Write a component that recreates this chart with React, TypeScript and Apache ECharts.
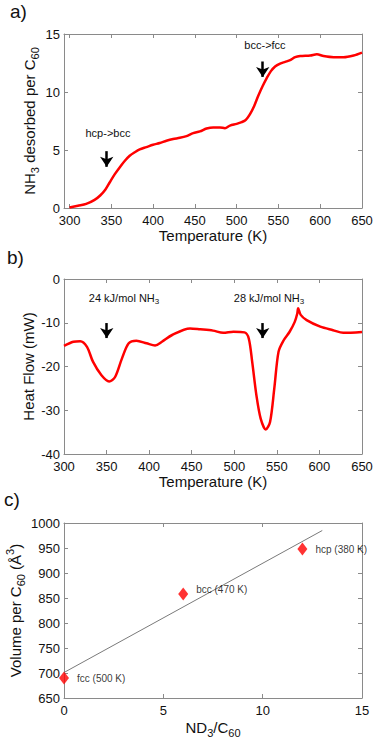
import React, { useEffect, useRef } from "react";
import * as echarts from "echarts";

// ---- Panel a: NH3 desorbed per C60 vs temperature ----
const tempA = [300, 310, 320, 330, 337, 343, 348, 354, 360, 366, 372, 378, 384, 392, 400, 408, 416, 424, 432, 440, 448, 456, 464, 472, 480, 486, 492, 500, 506, 511, 516, 521, 526, 531, 536, 541, 546, 552, 558, 564, 570, 576, 588, 596, 604, 616, 628, 640, 650];
const nh3A = [0.05, 0.2, 0.35, 0.7, 1.1, 1.6, 2.2, 2.9, 3.5, 4.05, 4.5, 4.8, 5.05, 5.25, 5.45, 5.6, 5.8, 5.95, 6.05, 6.2, 6.45, 6.6, 6.85, 6.95, 6.95, 6.88, 7.1, 7.25, 7.4, 7.6, 8.1, 8.8, 9.7, 10.5, 11.2, 11.8, 12.2, 12.45, 12.6, 12.75, 13.0, 13.1, 13.15, 13.25, 13.1, 13.0, 13.0, 13.15, 13.4];
const tempTicksA = [300, 350, 400, 450, 500, 550, 600, 650];

// ---- Panel b: heat flow vs temperature ----
const tempB = [300, 311, 319, 327, 334, 344, 353, 360, 368, 376, 385, 397, 407, 415, 427, 448, 460, 475, 487, 499, 512, 517, 521, 526, 531, 537, 542, 547, 552, 558, 565, 571, 574, 575, 578, 585, 601, 616, 628, 650];
const heatB = [-15.3, -14.35, -14.2, -15.5, -18.9, -22.0, -23.4, -22.4, -18.2, -14.7, -14.1, -14.7, -15.2, -14.35, -12.8, -11.3, -11.5, -11.8, -12.3, -12.06, -12.2, -13.6, -18.9, -26.6, -31.9, -34.4, -32.7, -25.0, -16.6, -14.0, -12.06, -9.8, -7.9, -6.7, -8.2, -9.4, -10.9, -11.7, -12.3, -12.1];

// ---- Panel c: volume per C60 vs ND3/C60 ----
const ratioC = [0, 6, 12];
const volumeC = [690, 858, 948];
const phaseC = ["fcc (500 K)", "bcc (470 K)", "hcp (380 K)"];
const fitX = [0, 13];
const fitY = [701, 985];

const FF = '"Liberation Sans", Arial, Helvetica, sans-serif';
const AX = "#8a8a8a";
const TXT = "#111";

const richName = {
  n: { fontSize: 15, lineHeight: 22, fontFamily: FF, color: TXT },
  s: { fontSize: 11, lineHeight: 11, verticalAlign: "bottom", fontFamily: FF, color: TXT },
  p: { fontSize: 11, lineHeight: 11, verticalAlign: "top", fontFamily: FF, color: TXT },
};

const plain = (v: number) => String(v);

function mainX(grid: number, min: number, max: number, interval: number | undefined, name: string, nameGap: number, custom?: number[]) {
  const ax: any = {
    gridIndex: grid,
    type: "value",
    position: "bottom",
    min,
    max,
    axisLine: { onZero: false, lineStyle: { color: AX, width: 1 } },
    axisTick: { inside: true, length: 4, lineStyle: { color: AX } },
    axisLabel: { margin: 6, fontSize: 13, color: TXT, fontFamily: FF, formatter: plain },
    splitLine: { show: false },
    name,
    nameLocation: "middle",
    nameGap,
    nameTextStyle: { fontSize: 15, color: TXT, fontFamily: FF, rich: richName },
  };
  if (interval !== undefined) ax.interval = interval;
  if (custom) {
    ax.axisTick.customValues = custom;
    ax.axisLabel.customValues = custom;
  }
  return ax;
}

function mirrorX(grid: number, min: number, max: number, interval: number | undefined, custom?: number[]) {
  const ax: any = {
    gridIndex: grid,
    type: "value",
    position: "top",
    min,
    max,
    axisLine: { onZero: false, lineStyle: { color: AX, width: 1 } },
    axisTick: { inside: true, length: 4, lineStyle: { color: AX } },
    axisLabel: { show: false },
    splitLine: { show: false },
  };
  if (interval !== undefined) ax.interval = interval;
  if (custom) ax.axisTick.customValues = custom;
  return ax;
}

function mainY(grid: number, min: number, max: number, interval: number, name: string, nameGap: number) {
  return {
    gridIndex: grid,
    type: "value",
    position: "left",
    min,
    max,
    interval,
    axisLine: { show: true, onZero: false, lineStyle: { color: AX, width: 1 } },
    axisTick: { show: true, inside: true, length: 4, lineStyle: { color: AX } },
    axisLabel: { margin: 4, fontSize: 13, color: TXT, fontFamily: FF, formatter: plain },
    splitLine: { show: false },
    name,
    nameLocation: "middle",
    nameGap,
    nameMoveOverlap: false,
    nameTextStyle: { fontSize: 15, color: TXT, fontFamily: FF, rich: richName },
  };
}

function mirrorY(grid: number, min: number, max: number, interval: number) {
  return {
    gridIndex: grid,
    type: "value",
    position: "right",
    min,
    max,
    interval,
    axisLine: { show: true, onZero: false, lineStyle: { color: AX, width: 1 } },
    axisTick: { show: true, inside: true, length: 4, lineStyle: { color: AX } },
    axisLabel: { show: false },
    splitLine: { show: false },
  };
}

function arrow(x: number, yTop: number, yBottom: number) {
  return [{ coord: [x, yTop] }, { coord: [x, yBottom] }];
}

function textMark(x: number, y: number, text: string) {
  return {
    coord: [x, y],
    symbol: "rect",
    symbolSize: 1,
    itemStyle: { color: "rgba(0,0,0,0)" },
    label: {
      show: true,
      position: "inside",
      formatter: text,
      rich: {
        t: { fontSize: 11, fontFamily: FF, color: TXT, lineHeight: 16 },
        s: { fontSize: 8, fontFamily: FF, color: TXT, lineHeight: 8, verticalAlign: "bottom" },
      },
    },
  };
}

const arrowMarkStyle = {
  silent: true,
  symbol: ["none", "arrow"],
  symbolSize: 10,
  itemStyle: { color: "#000" },
  lineStyle: { color: "#000", width: 2.5, type: "solid" },
  label: { show: false },
  emphasis: { disabled: true },
};

const gridBase = { left: 64, right: 12, outerBoundsMode: "none", containLabel: false };

export default function App() {
  const ref = useRef<HTMLDivElement>(null);

  useEffect(() => {
    if (!ref.current) return;
    const chart = echarts.init(ref.current, undefined, { renderer: "svg" });
    const option: any = {
      animation: false,
      backgroundColor: "#fff",
      textStyle: { fontFamily: FF },
      grid: [
        { ...gridBase, top: 34, height: 174 },
        { ...gridBase, top: 279, height: 175 },
        { ...gridBase, top: 523, height: 175 },
      ],
      xAxis: [
        mainX(0, 293.4, 650, undefined, "Temperature (K)", 16, tempTicksA),
        mirrorX(0, 293.4, 650, undefined, tempTicksA),
        mainX(1, 300, 650, 50, "Temperature (K)", 16),
        mirrorX(1, 300, 650, 50),
        mainX(2, 0, 15, 5, "{n|ND}{s|3}{n|/C}{s|60}", 18),
        mirrorX(2, 0, 15, 5),
      ],
      yAxis: [
        mainY(0, 0, 15, 5, "{n|NH}{s|3}{n| desorbed per C}{s|60}", 24),
        mirrorY(0, 0, 15, 5),
        mainY(1, -40, 0, 10, "Heat Flow (mW)", 28),
        mirrorY(1, -40, 0, 10),
        mainY(2, 650, 1000, 50, "{n|Volume per C}{s|60}{n| (Å}{p|3}{n|)}", 38),
        mirrorY(2, 650, 1000, 50),
      ],
      graphic: [
        { type: "text", left: 10, top: 2, style: { text: "a)", fontSize: 19, fontFamily: FF, fill: TXT } },
        { type: "text", left: 7, top: 248, style: { text: "b)", fontSize: 19, fontFamily: FF, fill: TXT } },
        { type: "text", left: 4, top: 490, style: { text: "c)", fontSize: 19, fontFamily: FF, fill: TXT } },
      ],
      series: [
        {
          type: "line",
          xAxisIndex: 0,
          yAxisIndex: 0,
          data: tempA.map((t, i) => [t, nh3A[i]]),
          showSymbol: false,
          smooth: 0.3,
          lineStyle: { color: "#ff0000", width: 2.5 },
          itemStyle: { color: "#ff0000" },
          markLine: { ...arrowMarkStyle, data: [arrow(344.5, 4.9, 3.55), arrow(531.2, 12.63, 11.3)] },
          markPoint: {
            silent: true,
            data: [textMark(346, 6.47, "{t|hcp->bcc}"), textMark(533.9, 14.03, "{t|bcc->fcc}")],
          },
        },
        {
          type: "line",
          xAxisIndex: 2,
          yAxisIndex: 2,
          data: tempB.map((t, i) => [t, heatB[i]]),
          showSymbol: false,
          smooth: 0.3,
          lineStyle: { color: "#ff0000", width: 2.5 },
          itemStyle: { color: "#ff0000" },
          markLine: { ...arrowMarkStyle, data: [arrow(350.2, -10.07, -13.5), arrow(533.4, -10.07, -13.5)] },
          markPoint: {
            silent: true,
            data: [
              textMark(370.5, -4.24, "{t|24 kJ/mol NH}{s|3}"),
              textMark(540.8, -4.24, "{t|28 kJ/mol NH}{s|3}"),
            ],
          },
        },
        {
          type: "line",
          xAxisIndex: 4,
          yAxisIndex: 4,
          data: fitX.map((x, i) => [x, fitY[i]]),
          showSymbol: false,
          lineStyle: { color: "#7a7a7a", width: 1 },
          itemStyle: { color: "#7a7a7a" },
          z: 2,
        },
        {
          type: "scatter",
          xAxisIndex: 4,
          yAxisIndex: 4,
          symbol: "diamond",
          symbolSize: [10, 13],
          itemStyle: { color: "#ff0000" },
          z: 3,
          label: {
            show: true,
            position: "right",
            distance: 8,
            fontSize: 10,
            fontFamily: FF,
            color: "#000",
            formatter: (p: any) => p.name,
          },
          data: ratioC.map((x, i) => ({
            name: phaseC[i],
            value: [x, volumeC[i]],
            label: i === 1 ? { offset: [0, -5] } : undefined,
          })),
        },
      ],
    };
    chart.setOption(option);
    return () => chart.dispose();
  }, []);

  return (
    <div
      ref={ref}
      style={{ position: "absolute", left: 0, top: 0, width: 374, height: 740, background: "#fff" }}
    />
  );
}
